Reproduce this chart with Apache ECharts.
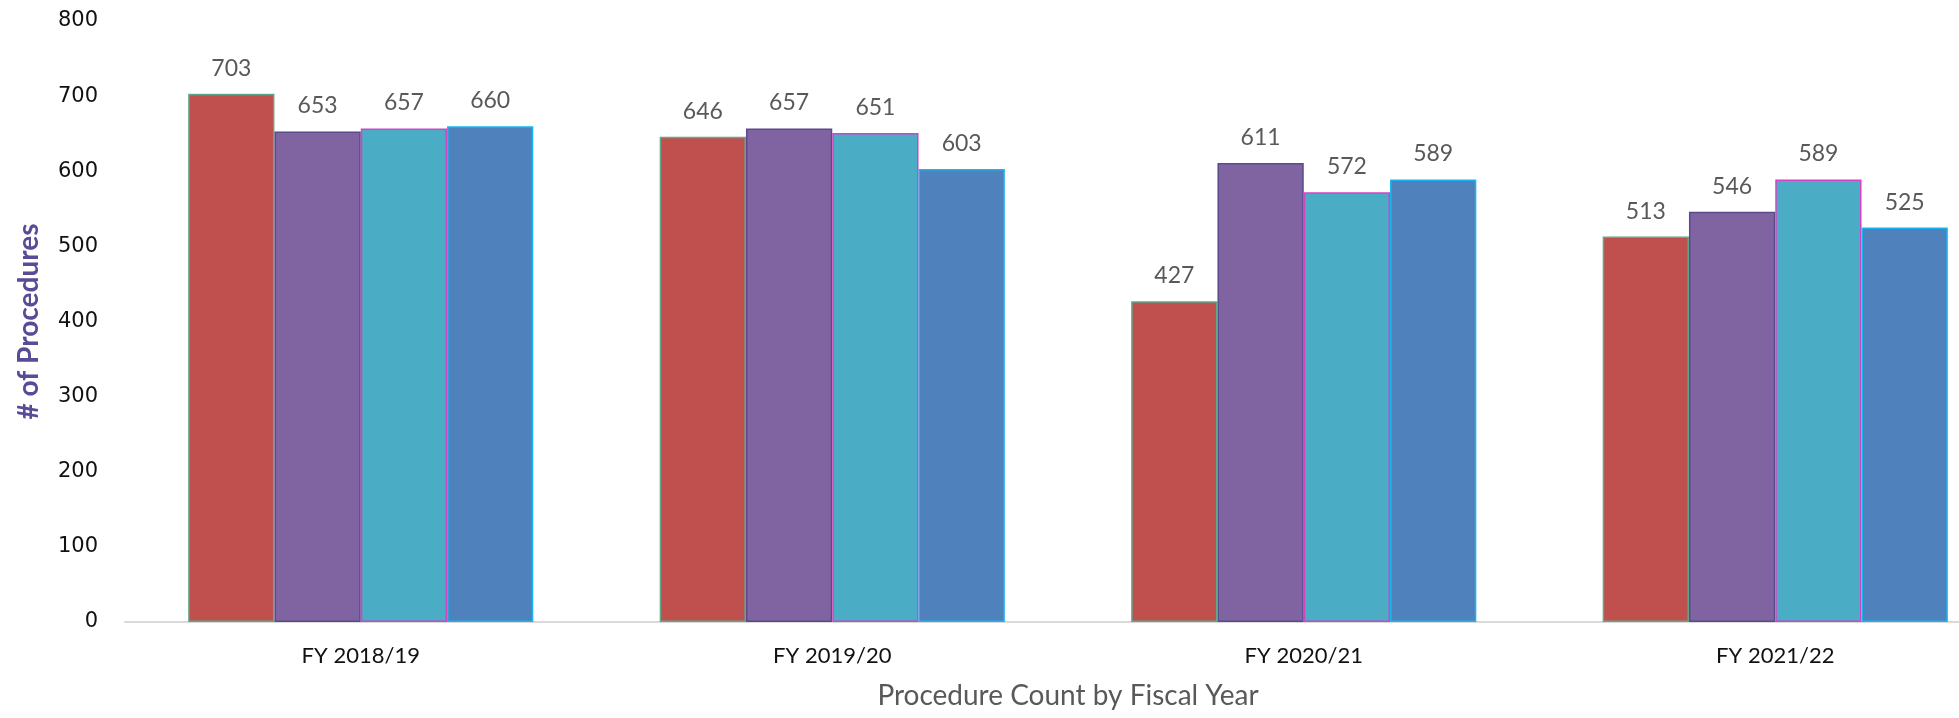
<!DOCTYPE html>
<html>
<head>
<meta charset="utf-8">
<script src="https://cdn.jsdelivr.net/npm/echarts@6/dist/echarts.min.js"></script>
<style>
  html, body { margin: 0; padding: 0; background: #fff; }
  #chart { width: 1959px; height: 718px; }
</style>
</head>
<body>
<div id="chart"></div>
<script>
// categories + values
const years = ['FY 2018/19', 'FY 2019/20', 'FY 2020/21', 'FY 2021/22']
const redVals = [703, 646, 427, 513]
const purpleVals = [653, 657, 611, 546]
const tealVals = [657, 651, 572, 589]
const blueVals = [660, 603, 589, 525]
const yTicks = [0, 100, 200, 300, 400, 500, 600, 700, 800]

const fills = ['#C0504D', '#8064A2', '#4BACC6', '#4F81BD']
const edges = ['#5FA88A', '#5A4A8C', '#D543C4', '#19B5F0']

var myChart = echarts.init(document.getElementById('chart'))

function bar(name, vals, i) {
  return {
    name: name,
    type: 'bar',
    data: vals,
    barWidth: '18.3%',
    barGap: '0%',
    itemStyle: {
      color: fills[i],
      borderColor: edges[i],
      borderWidth: 1.5
    },
    label: {
      show: true,
      position: 'top',
      distance: 14,
      color: '#595959',
      fontFamily: 'Lato',
      fontSize: 23
    }
  }
}

let options = {
  animation: false,
  grid: {
    left: 125,
    top: 21,
    bottom: 96,
    width: 1886,
    outerBoundsMode: 'none'
  },
  xAxis: {
    type: 'category',
    data: years,
    axisTick: { show: false },
    axisLine: { lineStyle: { color: '#D9D9D9', width: 2 } },
    axisLabel: {
      color: '#111',
      fontFamily: 'Lato',
      fontSize: 22,
      margin: 23
    },
    name: 'Procedure Count by Fiscal Year',
    nameLocation: 'middle',
    nameGap: 60,
    nameTextStyle: {
      color: '#595959',
      fontFamily: 'Lato',
      fontSize: 28
    }
  },
  yAxis: {
    type: 'value',
    min: yTicks[0],
    max: yTicks[yTicks.length - 1],
    interval: 100,
    splitLine: { show: false },
    axisLine: { show: false },
    axisTick: { show: false },
    axisLabel: {
      color: '#111',
      fontFamily: 'DejaVu Sans',
      fontSize: 21,
      margin: 27
    },
    name: '# of Procedures',
    nameLocation: 'middle',
    nameGap: 82,
    nameTextStyle: {
      color: '#574C96',
      fontFamily: 'Lato',
      fontWeight: 'bold',
      fontSize: 28
    }
  },
  series: [
    bar('s1', redVals, 0),
    bar('s2', purpleVals, 1),
    bar('s3', tealVals, 2),
    bar('s4', blueVals, 3)
  ]
}
myChart.setOption(options)
</script>
</body>
</html>
